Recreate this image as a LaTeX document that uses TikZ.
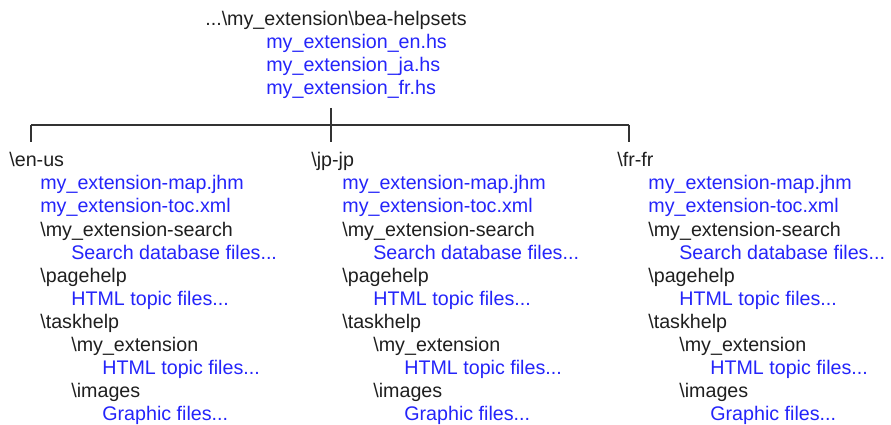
\documentclass[tikz,border=0pt]{standalone}
\usepackage{fontspec}
\setmainfont{Liberation Sans}
\definecolor{fileblue}{RGB}{36,36,250}
\tikzset{
  dirname/.style={anchor=base west, inner sep=0pt, text=black!88,
    font=\fontsize{11.2}{13}\selectfont},
  filename/.style={dirname, text=fileblue},
  branch/.style={draw=black!80, line width=0.8pt},
}

\begin{document}
\begin{tikzpicture}[x=0.02cm, y=-0.02cm]
  \useasboundingbox (0,0) rectangle (891,425);

  % helpset files
  \node[dirname] (root) at (205,26) {...\textbackslash my\_extension\textbackslash bea-helpsets};
  \node[filename] (hsen) at (266,49) {my\_extension\_en.hs};
  \node[filename] (hsja) at (266,72) {my\_extension\_ja.hs};
  \node[filename] (hsfr) at (266,95) {my\_extension\_fr.hs};

  \coordinate (stemtop) at (331,108);

  % one column per locale
  \foreach \lang/\x/\tick in {en-us/9/31, jp-jp/311/331, fr-fr/617/629} {
    \coordinate (bus-\lang) at (\tick,125);
    \coordinate (tick-\lang) at (\tick,142);
    \draw[branch] (bus-\lang) -- (tick-\lang);

    \node[dirname]  (\lang)         at (\x,167)    {\textbackslash\lang};
    \node[filename] (\lang-map)     at (\x+31,190) {my\_extension-map.jhm};
    \node[filename] (\lang-toc)     at (\x+31,213) {my\_extension-toc.xml};
    \node[dirname]  (\lang-search)  at (\x+31,236) {\textbackslash my\_extension-search};
    \node[filename] (\lang-db)      at (\x+62,259) {Search database files...};
    \node[dirname]  (\lang-page)    at (\x+31,282) {\textbackslash pagehelp};
    \node[filename] (\lang-pagehtm) at (\x+62,305) {HTML topic files...};
    \node[dirname]  (\lang-task)    at (\x+31,328) {\textbackslash taskhelp};
    \node[dirname]  (\lang-ext)     at (\x+62,351) {\textbackslash my\_extension};
    \node[filename] (\lang-exthtm)  at (\x+93,374) {HTML topic files...};
    \node[dirname]  (\lang-img)     at (\x+62,397) {\textbackslash images};
    \node[filename] (\lang-gfx)     at (\x+93,420) {Graphic files...};
  }

  \draw[branch] (bus-en-us) -- (bus-fr-fr);
  \draw[branch] (stemtop) -- (bus-jp-jp);
\end{tikzpicture}
\end{document}
